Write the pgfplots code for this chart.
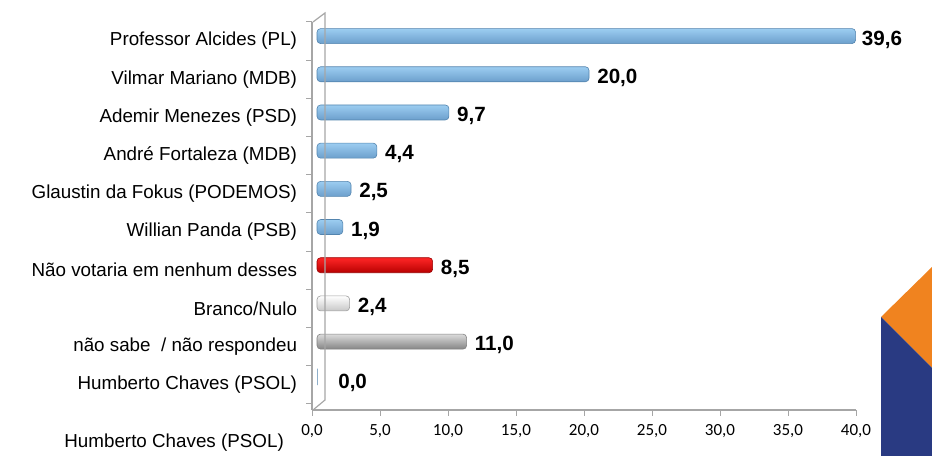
\documentclass[border=0pt]{standalone}
\usepackage{pgfplots}
\pgfplotsset{compat=1.18}
\usepackage{fontspec}
\setmainfont{Liberation Sans}
\newfontfamily\calib{Carlito}

\definecolor{axgray}{HTML}{A6A6A6}
\definecolor{bTop}{HTML}{9CCDF1}
\definecolor{bMid}{HTML}{BCE1F9}
\definecolor{bBot}{HTML}{6C9FCC}
\definecolor{bEdge}{HTML}{5384AE}
\definecolor{decoOrange}{HTML}{F0831F}
\definecolor{decoBlue}{HTML}{293A82}

\pgfplotsset{
  cyl/.style n args={4}{xbar, bar width=7.5bp, bar shift=2.5bp, xshift=2.5bp,
    rounded corners=1.8bp,
    draw=#4, line width=0.3bp, top color=#1, middle color=#2, bottom color=#3},
  blue bar/.style={cyl={bTop}{bMid}{bBot}{bEdge}},
  vals/.style={point meta=x,
    nodes near coords={\pgfmathprintnumber[fixed,fixed zerofill,precision=1,use comma]{\pgfplotspointmeta}},
    every node near coord/.append style={anchor=west, inner sep=0pt, xshift=#1, yshift=0.8bp,
      text=black, font=\fontsize{10.3bp}{12bp}\selectfont\bfseries}},
}

\begin{document}
\begin{tikzpicture}
\begin{axis}[
  at={(156bp,-205bp)}, anchor=south west,
  scale only axis, width=272bp, height=194bp,
  xmin=0, xmax=40, ymin=-0.66, ymax=9.5,
  axis x line*=bottom, axis y line*=left,
  axis line style={-, draw=axgray, line width=0.6bp},
  tick align=outside, major tick length=2.8bp,
  tick style={draw=axgray, line width=0.5bp},
  /pgf/number format/assume math mode=true,
  xtick={0,5,...,40},
  xticklabel={\pgfmathprintnumber[fixed,fixed zerofill,precision=1,use comma]{\tick}},
  xticklabel style={font=\calib\fontsize{8.5bp}{10bp}\selectfont, inner sep=0pt, yshift=-4bp},
  ytick={-0.5,0.5,...,9.5}, yticklabels={},
  extra y ticks={0,...,9},
  extra y tick labels={Humberto Chaves (PSOL), não sabe~ / não respondeu, Branco/Nulo,
    Não votaria em nenhum desses, Willian Panda (PSB), Glaustin da Fokus (PODEMOS),
    André Fortaleza (MDB), Ademir Menezes (PSD), Vilmar Mariano (MDB), Professor Alcides (PL)},
  extra y tick style={tick style={draw=none}},
  yticklabel style={font=\fontsize{9.4bp}{11bp}\selectfont, anchor=east, inner sep=0pt, xshift=-4.5bp},
  clip=false,
]
\addplot[blue bar, vals=3bp] coordinates {(39.6,9)};
\addplot[blue bar, vals=4bp] coordinates {(20.0,8)};
\addplot[blue bar, vals=4bp] coordinates {(9.7,7)};
\addplot[blue bar, vals=4bp] coordinates {(4.4,6)};
\addplot[blue bar, vals=4bp] coordinates {(2.5,5)};
\addplot[blue bar, vals=4bp] coordinates {(1.9,4)};
\addplot[cyl={red!85!white}{red}{red!72!black}{red!60!black}, vals=4bp]
  coordinates {(8.5,3)};
\addplot[cyl={white}{white}{black!22}{black!38}, vals=4bp]
  coordinates {(2.4,2)};
\addplot[cyl={black!14}{black!20}{black!48}{black!50}, vals=4bp]
  coordinates {(11.0,1)};
\addplot[blue bar, vals=10.5bp] coordinates {(0.0,0)};
\end{axis}
\begin{scope}[x=0.5bp, y=-0.5bp]
  % 3D frame of the chart
  \draw[axgray, line width=0.6bp] (313,22) -- (325,13) -- (325,400) -- (313,410);
  \node[anchor=west, inner sep=0pt, font=\fontsize{9.4bp}{11bp}\selectfont] at (64,443) {Humberto Chaves (PSOL)};
  % corner decoration
  \fill[decoOrange] (881,317) -- (932,267) -- (932,368) -- cycle;
  \fill[decoBlue] (881,317) -- (932,368) -- (932,456) -- (881,456) -- cycle;
  \pgfresetboundingbox
  \path[use as bounding box] (0,0) rectangle (932,456);
\end{scope}
\end{tikzpicture}
\end{document}
